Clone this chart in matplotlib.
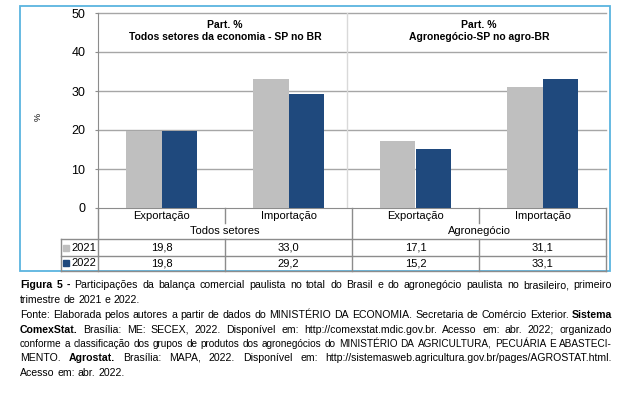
import numpy as np
import matplotlib
matplotlib.use("Agg")
import matplotlib.pyplot as plt
from matplotlib.patches import Rectangle
from matplotlib.lines import Line2D
import matplotlib.transforms as mtransforms

plt.rcParams['font.family'] = ['Liberation Sans', 'DejaVu Sans']

# ---- data ----
categories = ["Exportação", "Importação", "Exportação", "Importação"]
groups = ["Todos setores", "Agronegócio"]
panel_titles = [("Part. %", "Todos setores da economia - SP no BR"),
                ("Part. %", "Agronegócio-SP no agro-BR")]
series_names = ["2021", "2022"]
v2021 = [19.8, 33.0, 17.1, 31.1]
v2022 = [19.8, 29.2, 15.2, 33.1]
yticks = [0, 10, 20, 30, 40, 50]

caption_lines = [
    ([("Figura 5 -", True), ("Participações da balança comercial paulista no total do Brasil e do agronegócio paulista no brasileiro, primeiro", False)], True),
    ([("trimestre de 2021 e 2022.", False)], False),
    ([("Fonte: Elaborada pelos autores a partir de dados do MINISTÉRIO DA ECONOMIA. Secretaria de Comércio Exterior.", False), ("Sistema", True)], True),
    ([("ComexStat.", True), ("Brasília: ME: SECEX, 2022. Disponível em: http://comexstat.mdic.gov.br. Acesso em: abr. 2022; organizado", False)], True),
    ([("conforme a classificação dos grupos de produtos dos agronegócios do MINISTÉRIO DA AGRICULTURA, PECUÁRIA E ABASTECI-", False)], True),
    ([("MENTO.", False), ("Agrostat.", True), ("Brasília: MAPA, 2022. Disponível em: http://sistemasweb.agricultura.gov.br/pages/AGROSTAT.html.", False)], True),
    ([("Acesso em: abr. 2022.", False)], False),
]

# ---- styles ----
W, H = 617, 395
GRAY = "#bfbfbf"
BLUE = "#1f497d"
LINE = "#8c8c8c"
GRID = "#a6a6a6"
FRAME = "#5ab4df"

def fx(px):
    return px / W

def fy(py):
    return 1 - py / H

fig = plt.figure(figsize=(W / 100, H / 100), dpi=100)
fig.patch.set_facecolor("white")

ax = fig.add_axes([fx(98), fy(208), (606 - 98) / W, (208 - 13) / H])
x = np.arange(len(categories))
bw = 0.283
ax.bar(x - bw / 2, v2021, bw, color=GRAY, zorder=3)
ax.bar(x + bw / 2, v2022, bw, color=BLUE, zorder=3)
ax.set_xlim(-0.5, len(categories) - 0.5)
ax.set_ylim(0, 50)
ax.set_yticks(yticks)
ax.set_yticklabels([str(t) for t in yticks], fontsize=9)
ax.set_xticks([])
ax.tick_params(axis='y', length=2, color=LINE, pad=7)
for t in yticks[1:]:
    ax.axhline(t, color=GRID, lw=1, zorder=1, clip_on=False)
for s in ["top", "right"]:
    ax.spines[s].set_visible(False)
ax.spines["left"].set_color(LINE)
ax.spines["bottom"].set_color(LINE)
ax.axvline(1.46, color="#d9d9d9", lw=1, zorder=1)
fig.text(fx(38), fy(117), "%", rotation=90, ha="center", va="center", fontsize=6.5)

for gi, (t1, t2) in enumerate(panel_titles):
    cx = gi * 2 + 0.5
    ax.text(cx, 46.9, t1, ha="center", va="center", fontsize=7.5, fontweight="bold")
    ax.text(cx, 43.8, t2, ha="center", va="center", fontsize=7.5, fontweight="bold")

# ---- data table ----
bt = mtransforms.blended_transform_factory(ax.transData, fig.transFigure)
def hline(x0, x1, py, trans=fig.transFigure):
    fig.add_artist(Line2D([x0, x1], [fy(py), fy(py)], color=LINE, lw=1, transform=trans))
def vline_data(xd, py0, py1):
    fig.add_artist(Line2D([xd, xd], [fy(py0), fy(py1)], color=LINE, lw=1, transform=bt))

x_left, x_right = -0.5, len(categories) - 0.5
vline_data(x_left, 208, 271)
vline_data(x_right, 208, 271)
vline_data(1.5, 208, 271)
for xd in [0.5, 2.5]:
    vline_data(xd, 208, 223)
    vline_data(xd, 239, 271)
hline(fx(61), fx(606), 239)
hline(fx(61), fx(606), 256)
hline(fx(61), fx(606), 271)
fig.add_artist(Line2D([fx(61), fx(61)], [fy(239), fy(271)], color=LINE, lw=1))

for i, c in enumerate(categories):
    fig.text(i, fy(216), c, transform=bt, ha="center", va="center", fontsize=8)
for gi, g in enumerate(groups):
    fig.text(gi * 2 + 0.5, fy(231), g, transform=bt, ha="center", va="center", fontsize=8)

def fmt(v):
    return f"{v:.1f}".replace(".", ",")

for row_py, name, vals, col in [(248, series_names[0], v2021, GRAY), (263, series_names[1], v2022, BLUE)]:
    fig.add_artist(Rectangle((fx(63), fy(row_py + 3)), 6 / W, 6 / H, color=col, transform=fig.transFigure))
    fig.text(fx(71), fy(row_py), name, ha="left", va="center", fontsize=8)
    for i, v in enumerate(vals):
        fig.text(i, fy(row_py), fmt(v), transform=bt, ha="center", va="center", fontsize=8)

# ---- frame ----
fig.add_artist(Rectangle((fx(20), fy(271)), 590 / W, 265 / H, fill=False,
                         edgecolor=FRAME, lw=1.3, transform=fig.transFigure))

# ---- caption (justified) ----
renderer = fig.canvas.get_renderer()
cap_fs = 7.6
left_px, right_px = 20, 612
avail = right_px - left_px
line_y = [285, 300, 315, 330, 344, 358, 373]

def width_px(word, bold, fs):
    t = fig.text(0, 0, word, fontsize=fs, fontweight="bold" if bold else "normal")
    w = t.get_window_extent(renderer).width
    t.remove()
    return w

for (segments, justify), py in zip(caption_lines, line_y):
    words = []
    for txt, bold in segments:
        for w in txt.split(" "):
            words.append((w, bold))
    fs = cap_fs
    space_w = width_px("a a", False, fs) - width_px("aa", False, fs)
    widths = [width_px(w, b, fs) for w, b in words]
    natural = sum(widths) + space_w * (len(words) - 1)
    if justify and natural > avail:
        fs = cap_fs * avail / natural * 0.99
        space_w = width_px("a a", False, fs) - width_px("aa", False, fs)
        widths = [width_px(w, b, fs) for w, b in words]
    if justify and len(words) > 1:
        gap = (avail - sum(widths)) / (len(words) - 1)
    else:
        gap = space_w
    xp = left_px
    for (w, b), wd in zip(words, widths):
        fig.text(fx(xp), fy(py), w, ha="left", va="center", fontsize=fs,
                 fontweight="bold" if b else "normal")
        xp += wd + gap

fig.savefig("out.png", dpi=100, facecolor="white")
